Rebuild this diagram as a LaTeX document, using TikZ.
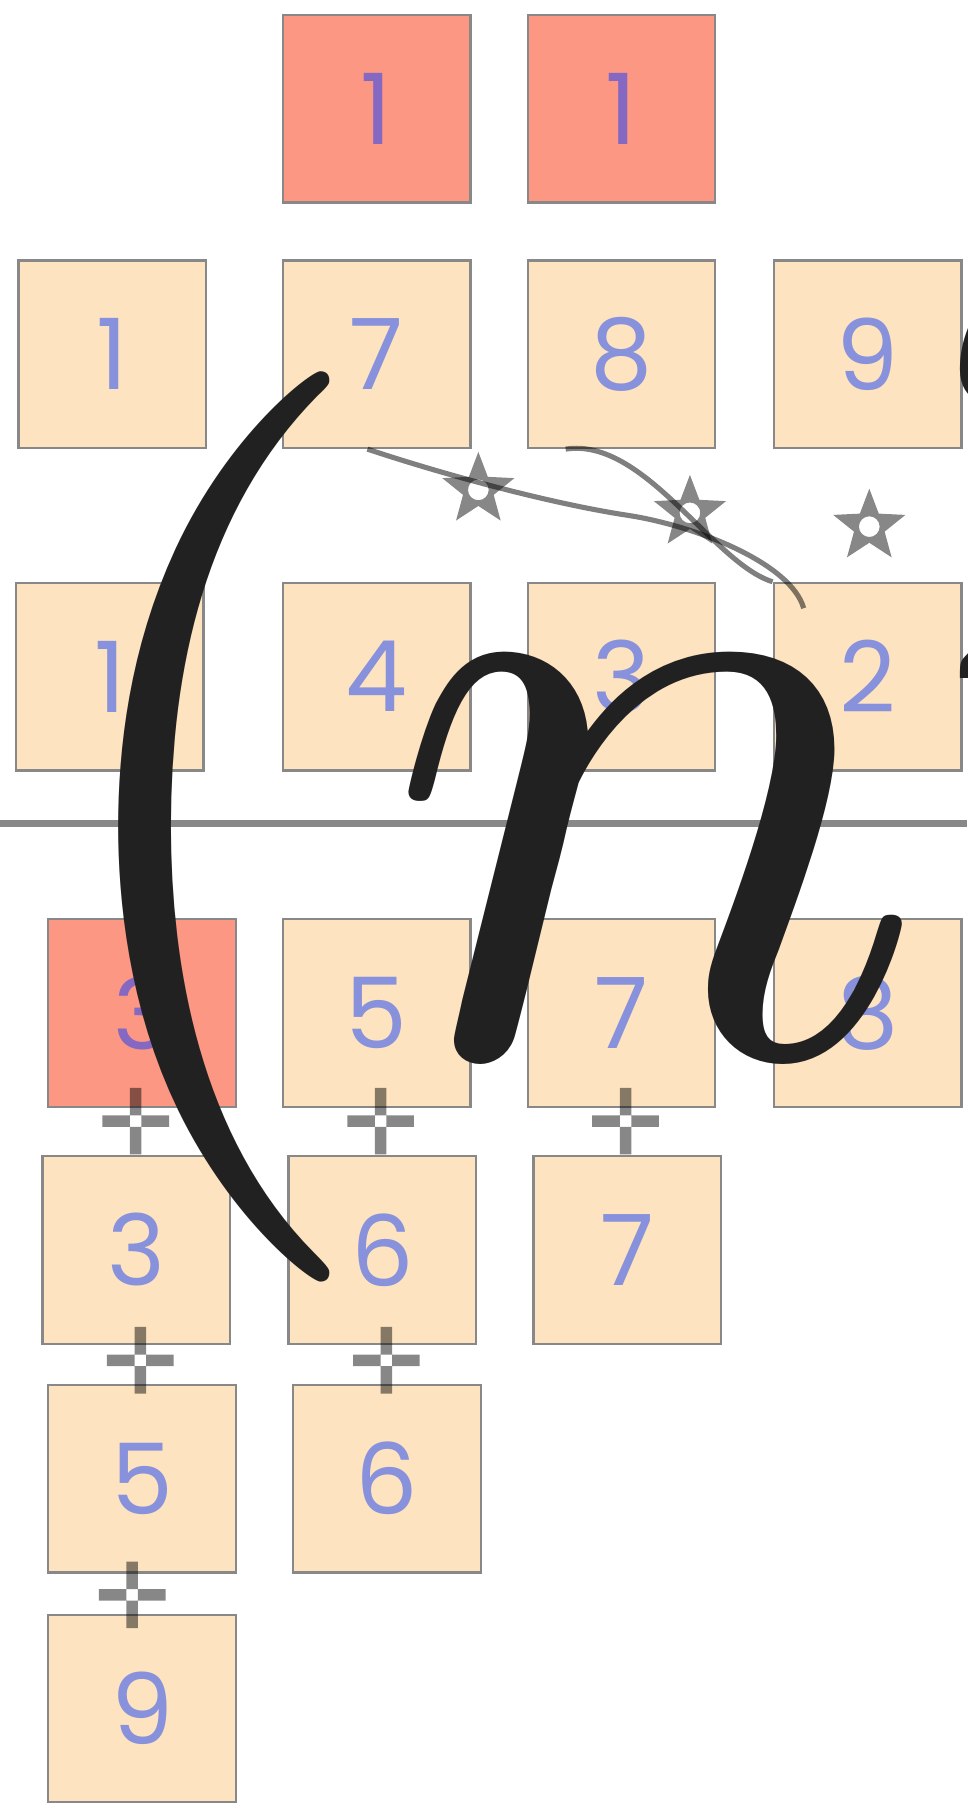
\documentclass[tikz,border=0pt]{standalone}
\usepackage[no-math]{fontspec}
\newfontfamily\digitfont{Poppins}
\DeclareFontShape{OT1}{cmr}{m}{n}{<-> cmr10}{}
\DeclareFontShape{OML}{cmm}{m}{it}{<-> cmmi10}{\skewchar\font127 }
\DeclareFontShape{OMS}{cmsy}{m}{n}{<-> cmsy10}{\skewchar\font48 }
\DeclareFontShape{OMX}{cmex}{m}{n}{<-> cmex10}{}
\usetikzlibrary{calc}

\definecolor{cardfill}{RGB}{253,227,192}
\definecolor{hotfill}{RGB}{252,151,131}
\definecolor{cardedge}{RGB}{136,136,136}
\definecolor{digitblue}{RGB}{136,145,219}
\definecolor{digitviolet}{RGB}{133,104,194}
\definecolor{inkblack}{RGB}{33,33,33}

\tikzset{
    card/.style={draw=cardedge, line width=1.35pt, fill=cardfill, inner sep=0pt,
        minimum width=3.75cm, minimum height=3.75cm, text=digitblue,
        font=\digitfont\fontsize{56}{56}\selectfont},
    hot card/.style={card, fill=hotfill, text=digitviolet},
    ink/.style={fill=black, fill opacity=0.47},
    trail/.style={draw=black, draw opacity=0.5, line width=2.9pt},
    plussign/.pic={\fill[ink, even odd rule] (-5,-29) rectangle (5,29) (-29,-5) rectangle (29,5);},
    starsign/.pic={\fill[ink, even odd rule] (-90:33)
        \foreach \a in {0,...,4} {-- ({-54+72*\a}:14) -- ({-18+72*\a}:33)} -- cycle
        (0,0) circle (9);}
}

\begin{document}
\begin{tikzpicture}[x=0.023cm, y=-0.023cm]
    \useasboundingbox (0,0) rectangle (841,1568);
    \clip (0,0) rectangle (841,1568);

    % Top row
    \node[hot card] (t1) at (327.5,94.5) {1};
    \node[hot card] (t2) at (540.5,94.5) {1};

    % Rows above the line
    \foreach \x/\d [count=\i] in {97.5/1, 327.5/7, 540.5/8, 754.5/9}
        \node[card] (a\i) at (\x,308) {\d};
    \foreach \x/\d [count=\i] in {95.5/1, 327.5/4, 540.5/3, 754.5/2}
        \node[card] (b\i) at (\x,588.5) {\d};

    % Divider
    \draw[cardedge, line width=4.2pt] (0,716) -- (841,716);

    % Rows below the line
    \node[hot card] (c1) at (123.5,881) {3};
    \foreach \x/\d [count=\i from 2] in {327.5/5, 540.5/7, 754.5/8}
        \node[card] (c\i) at (\x,881) {\d};
    \foreach \x/\d [count=\i] in {118.5/3, 332.5/6, 545.5/7}
        \node[card] (d\i) at (\x,1087) {\d};
    \node[card] (e1) at (123.5,1286) {5};
    \node[card] (e2) at (336.5,1286) {6};
    \node[card] (f1) at (123.5,1486) {9};

    % Trails and stars
    \draw[trail] ($(a2.south)+(-8,0)$) .. controls (390,414) and (480,438) .. (545,448)
        .. controls (605,457) and (688,490) .. ($(b4.north west)+(27,23)$);
    \draw[trail] ($(a3.south west)+(34,0)$) .. controls (560,380) and (620,490) .. (b4.north west);
    \pic at (416,426) {starsign};
    \pic at (600,446) {starsign};
    \pic at (756,458) {starsign};

    % Plus signs
    \foreach \p in {(118,975), (331,975), (544,975), (122,1183), (336,1183), (115,1387)}
        \pic at \p {plussign};

    % Big formula on top
    \node[anchor=base west, inner sep=0pt, outer sep=0pt, text=inkblack,
        font=\fontsize{518}{518}\selectfont] (bigmath) at (24.6,917) {$\displaystyle(n^2$};
\end{tikzpicture}
\end{document}
